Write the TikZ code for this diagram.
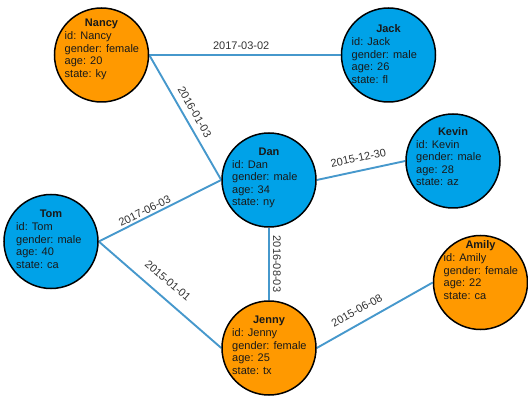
\documentclass[tikz,border=0pt]{standalone}
\usepackage{fontspec}
\setmainfont{Liberation Sans}
\usetikzlibrary{backgrounds}

\definecolor{personblue}{RGB}{0,162,232}
\definecolor{personorange}{RGB}{255,153,0}
\definecolor{edgeblue}{RGB}{70,152,204}
\definecolor{labelgray}{RGB}{51,51,51}

\tikzset{
  person/.style={circle, draw=black, line width=1.5pt, minimum size=94pt, inner sep=0pt},
  male/.style={person, fill=personblue},
  female/.style={person, fill=personorange},
  title/.style={font=\bfseries\fontsize{11}{12.5}\selectfont, anchor=base, inner sep=0pt, text=black!90},
  info/.style={font=\fontsize{11}{12.5}\selectfont, align=left, anchor=north west, inner sep=0pt, text=black!90},
  rel/.style={draw=edgeblue, line width=1.9pt},
  when/.style={font=\fontsize{11}{12}\selectfont, text=labelgray, sloped, inner sep=1pt},
}

\begin{document}
\begin{tikzpicture}[x=1pt, y=-1pt]
\useasboundingbox (0,0) rectangle (528,398);

% people
\node[female] (nancy) at (101.5,55) {};
\node[male]   (jack)  at (388.5,55) {};
\node[male]   (dan)   at (269,180) {};
\node[male]   (tom)   at (51,241.5) {};
\node[female] (jenny) at (269,348) {};
\node[male]   (kevin) at (453,161) {};
\node[female] (amily) at (480.5,282.5) {};

% names and properties
\node[title] (nancy-name) at (101.5,27) {Nancy};
\node[info]  (nancy-info) at (64.5,31.6) {id: Nancy\\gender: female\\age: 20\\state: ky};
\node[title] (jack-name) at (388.5,33) {Jack};
\node[info]  (jack-info) at (351.5,37.6) {id: Jack\\gender: male\\age: 26\\state: fl};
\node[title] (dan-name) at (269,155.7) {Dan};
\node[info]  (dan-info) at (232,160.3) {id: Dan\\gender: male\\age: 34\\state: ny};
\node[title] (tom-name) at (51,218) {Tom};
\node[info]  (tom-info) at (16,222.6) {id: Tom\\gender: male\\age: 40\\state: ca};
\node[title] (jenny-name) at (269,324) {Jenny};
\node[info]  (jenny-info) at (232,328.6) {id: Jenny\\gender: female\\age: 25\\state: tx};
\node[title] (kevin-name) at (453,135.3) {Kevin};
\node[info]  (kevin-info) at (416,139.9) {id: Kevin\\gender: male\\age: 28\\state: az};
\node[title] (amily-name) at (480.5,249) {Amily};
\node[info]  (amily-info) at (443.5,253.6) {id: Amily\\gender: female\\age: 22\\state: ca};

% relations
\begin{scope}[on background layer]
  \draw[rel] (nancy.east) -- node[when, pos=0.48, above=3pt] {2017-03-02} (jack.west);
  \draw[rel] (nancy.east) -- node[when, midway, above=5pt] {2016-01-03} (dan.west);
  \draw[rel] (tom.east) -- node[when, pos=0.4, above=1pt] {2017-06-03} (dan.west);
  \draw[rel] (tom.east) -- node[when, pos=0.48, above=10pt] {2015-01-01} (jenny.west);
  \draw[rel] (dan.south) -- node[when, midway, above=2pt] {2016-08-03} (jenny.north);
  \draw[rel] (dan.east) -- node[when, midway, above=7pt] {2015-12-30} (kevin.west);
  \draw[rel] (jenny.east) -- node[when, pos=0.4, above=7pt] {2015-06-08} (amily.west);
\end{scope}
\end{tikzpicture}
\end{document}
